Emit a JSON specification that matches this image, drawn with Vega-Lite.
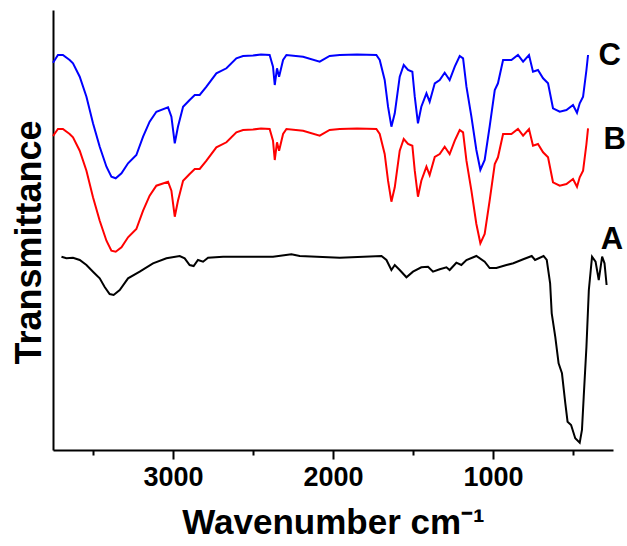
{
  "$schema": "https://vega.github.io/schema/vega-lite/v6.json",
  "width": 560,
  "height": 440,
  "autosize": "none",
  "padding": {"left": 53, "top": 10, "right": 14, "bottom": 96},
  "background": "white",
  "config": {
    "view": {"stroke": null},
    "font": "Liberation Sans"
  },
  "datasets": {
    "spectra": [
      {"s":"C","x":3750,"y":387.3},{"s":"C","x":3719,"y":395},{"s":"C","x":3688,"y":395},{"s":"C","x":3646,"y":390},{"s":"C","x":3625,"y":386.7},{"s":"C","x":3583,"y":373.3},{"s":"C","x":3541,"y":353.3},{"s":"C","x":3500,"y":326.7},{"s":"C","x":3458,"y":303.3},{"s":"C","x":3416,"y":283.3},{"s":"C","x":3385,"y":273.3},{"s":"C","x":3358,"y":271.7},{"s":"C","x":3322,"y":276.7},{"s":"C","x":3281,"y":286.7},{"s":"C","x":3229,"y":295},{"s":"C","x":3187,"y":313.3},{"s":"C","x":3146,"y":328.3},{"s":"C","x":3104,"y":338.3},{"s":"C","x":3031,"y":342.7},{"s":"C","x":3010,"y":333.3},{"s":"C","x":2989,"y":306.7},{"s":"C","x":2969,"y":323.3},{"s":"C","x":2937,"y":343.3},{"s":"C","x":2896,"y":350},{"s":"C","x":2864,"y":355},{"s":"C","x":2833,"y":355},{"s":"C","x":2791,"y":363.3},{"s":"C","x":2729,"y":376.7},{"s":"C","x":2666,"y":381.7},{"s":"C","x":2604,"y":391.7},{"s":"C","x":2562,"y":394},{"s":"C","x":2500,"y":394.5},{"s":"C","x":2450,"y":395.5},{"s":"C","x":2396,"y":395},{"s":"C","x":2375,"y":383.3},{"s":"C","x":2364,"y":365},{"s":"C","x":2350,"y":381.7},{"s":"C","x":2337,"y":373.3},{"s":"C","x":2312,"y":390},{"s":"C","x":2291,"y":395},{"s":"C","x":2187,"y":393.3},{"s":"C","x":2083,"y":388.3},{"s":"C","x":2021,"y":394},{"s":"C","x":1958,"y":395},{"s":"C","x":1850,"y":395.5},{"s":"C","x":1729,"y":395},{"s":"C","x":1708,"y":390},{"s":"C","x":1677,"y":370},{"s":"C","x":1656,"y":343.3},{"s":"C","x":1635,"y":323.3},{"s":"C","x":1614,"y":336.7},{"s":"C","x":1583,"y":373.3},{"s":"C","x":1558,"y":385},{"s":"C","x":1531,"y":380},{"s":"C","x":1504,"y":378.3},{"s":"C","x":1489,"y":353.3},{"s":"C","x":1469,"y":326.7},{"s":"C","x":1448,"y":343.3},{"s":"C","x":1416,"y":356.7},{"s":"C","x":1396,"y":348.3},{"s":"C","x":1364,"y":366.7},{"s":"C","x":1333,"y":370},{"s":"C","x":1302,"y":377.3},{"s":"C","x":1271,"y":370},{"s":"C","x":1239,"y":383.3},{"s":"C","x":1208,"y":394},{"s":"C","x":1187,"y":391.7},{"s":"C","x":1166,"y":363.3},{"s":"C","x":1135,"y":333.3},{"s":"C","x":1104,"y":300},{"s":"C","x":1079,"y":280},{"s":"C","x":1052,"y":290},{"s":"C","x":1021,"y":323.3},{"s":"C","x":989,"y":360},{"s":"C","x":969,"y":366.7},{"s":"C","x":937,"y":390},{"s":"C","x":885,"y":390},{"s":"C","x":844,"y":395},{"s":"C","x":812,"y":388.3},{"s":"C","x":775,"y":395},{"s":"C","x":750,"y":378.3},{"s":"C","x":719,"y":380},{"s":"C","x":687,"y":371.7},{"s":"C","x":656,"y":366.7},{"s":"C","x":625,"y":341.7},{"s":"C","x":583,"y":338.3},{"s":"C","x":541,"y":340},{"s":"C","x":500,"y":345},{"s":"C","x":475,"y":337.3},{"s":"C","x":458,"y":346.7},{"s":"C","x":437,"y":353.3},{"s":"C","x":416,"y":380},{"s":"C","x":406,"y":395},

      {"s":"B","x":3750,"y":314},{"s":"B","x":3719,"y":321},{"s":"B","x":3688,"y":321},{"s":"B","x":3646,"y":316},{"s":"B","x":3625,"y":312.7},{"s":"B","x":3583,"y":299.3},{"s":"B","x":3541,"y":279.3},{"s":"B","x":3500,"y":252.7},{"s":"B","x":3458,"y":229.3},{"s":"B","x":3416,"y":209.3},{"s":"B","x":3385,"y":199.3},{"s":"B","x":3358,"y":198.3},{"s":"B","x":3322,"y":202.7},{"s":"B","x":3281,"y":212.7},{"s":"B","x":3229,"y":221},{"s":"B","x":3187,"y":239.3},{"s":"B","x":3146,"y":254.3},{"s":"B","x":3104,"y":264.3},{"s":"B","x":3031,"y":268.3},{"s":"B","x":3010,"y":259.3},{"s":"B","x":2989,"y":233.3},{"s":"B","x":2969,"y":249.3},{"s":"B","x":2937,"y":269.3},{"s":"B","x":2896,"y":276},{"s":"B","x":2864,"y":281},{"s":"B","x":2833,"y":281},{"s":"B","x":2791,"y":289.3},{"s":"B","x":2729,"y":302.7},{"s":"B","x":2666,"y":307.7},{"s":"B","x":2604,"y":317.7},{"s":"B","x":2562,"y":320},{"s":"B","x":2500,"y":320.5},{"s":"B","x":2450,"y":321.5},{"s":"B","x":2396,"y":321},{"s":"B","x":2375,"y":309.3},{"s":"B","x":2364,"y":290},{"s":"B","x":2350,"y":307.7},{"s":"B","x":2337,"y":299.3},{"s":"B","x":2312,"y":316},{"s":"B","x":2291,"y":321},{"s":"B","x":2187,"y":319.3},{"s":"B","x":2083,"y":314.3},{"s":"B","x":2021,"y":320},{"s":"B","x":1958,"y":321},{"s":"B","x":1850,"y":321.5},{"s":"B","x":1729,"y":321},{"s":"B","x":1708,"y":316},{"s":"B","x":1677,"y":296},{"s":"B","x":1656,"y":269.3},{"s":"B","x":1635,"y":248.3},{"s":"B","x":1614,"y":262.7},{"s":"B","x":1583,"y":299.3},{"s":"B","x":1558,"y":311},{"s":"B","x":1531,"y":306},{"s":"B","x":1504,"y":304.3},{"s":"B","x":1489,"y":279.3},{"s":"B","x":1469,"y":253.3},{"s":"B","x":1448,"y":269.3},{"s":"B","x":1416,"y":283.3},{"s":"B","x":1396,"y":275},{"s":"B","x":1364,"y":293},{"s":"B","x":1333,"y":296},{"s":"B","x":1302,"y":303.3},{"s":"B","x":1271,"y":296},{"s":"B","x":1239,"y":309.3},{"s":"B","x":1208,"y":320},{"s":"B","x":1187,"y":317.7},{"s":"B","x":1166,"y":289.3},{"s":"B","x":1135,"y":259.3},{"s":"B","x":1104,"y":226},{"s":"B","x":1079,"y":206.7},{"s":"B","x":1052,"y":216},{"s":"B","x":1021,"y":249.3},{"s":"B","x":989,"y":286},{"s":"B","x":969,"y":292.7},{"s":"B","x":937,"y":316},{"s":"B","x":885,"y":316},{"s":"B","x":844,"y":321},{"s":"B","x":812,"y":314.3},{"s":"B","x":775,"y":321},{"s":"B","x":750,"y":304.3},{"s":"B","x":719,"y":306},{"s":"B","x":687,"y":297.7},{"s":"B","x":656,"y":292.7},{"s":"B","x":625,"y":267.7},{"s":"B","x":583,"y":264.3},{"s":"B","x":541,"y":266},{"s":"B","x":500,"y":271},{"s":"B","x":475,"y":263.3},{"s":"B","x":458,"y":272.7},{"s":"B","x":437,"y":279.3},{"s":"B","x":416,"y":306},{"s":"B","x":406,"y":321.7},

      {"s":"A","x":3697,"y":193.3},{"s":"A","x":3666,"y":191.7},{"s":"A","x":3625,"y":192.3},{"s":"A","x":3583,"y":190},{"s":"A","x":3541,"y":185},{"s":"A","x":3500,"y":178.3},{"s":"A","x":3458,"y":171.7},{"s":"A","x":3427,"y":163},{"s":"A","x":3396,"y":156},{"s":"A","x":3371,"y":155},{"s":"A","x":3333,"y":160},{"s":"A","x":3281,"y":171.7},{"s":"A","x":3208,"y":178.3},{"s":"A","x":3125,"y":186.7},{"s":"A","x":3041,"y":191.7},{"s":"A","x":2958,"y":194},{"s":"A","x":2927,"y":191.7},{"s":"A","x":2896,"y":185},{"s":"A","x":2871,"y":184},{"s":"A","x":2844,"y":190},{"s":"A","x":2812,"y":188.3},{"s":"A","x":2781,"y":192.3},{"s":"A","x":2687,"y":193.3},{"s":"A","x":2375,"y":193.3},{"s":"A","x":2260,"y":195.7},{"s":"A","x":2208,"y":194},{"s":"A","x":1958,"y":192.3},{"s":"A","x":1697,"y":194},{"s":"A","x":1666,"y":190},{"s":"A","x":1635,"y":180},{"s":"A","x":1614,"y":185},{"s":"A","x":1583,"y":180},{"s":"A","x":1541,"y":172.7},{"s":"A","x":1500,"y":178.3},{"s":"A","x":1448,"y":182.7},{"s":"A","x":1406,"y":183.3},{"s":"A","x":1375,"y":178.3},{"s":"A","x":1333,"y":180.7},{"s":"A","x":1291,"y":182.7},{"s":"A","x":1271,"y":180},{"s":"A","x":1229,"y":187.3},{"s":"A","x":1198,"y":185},{"s":"A","x":1166,"y":190},{"s":"A","x":1104,"y":194},{"s":"A","x":1052,"y":188.3},{"s":"A","x":1021,"y":182},{"s":"A","x":979,"y":182},{"s":"A","x":916,"y":185},{"s":"A","x":873,"y":186.7},{"s":"A","x":811,"y":190.7},{"s":"A","x":758,"y":194},{"s":"A","x":737,"y":190},{"s":"A","x":684,"y":194},{"s":"A","x":664,"y":190},{"s":"A","x":643,"y":166.7},{"s":"A","x":633,"y":136.7},{"s":"A","x":611,"y":113.3},{"s":"A","x":590,"y":86.7},{"s":"A","x":569,"y":76.7},{"s":"A","x":548,"y":46.7},{"s":"A","x":534,"y":28.3},{"s":"A","x":512,"y":25},{"s":"A","x":486,"y":11.7},{"s":"A","x":458,"y":7.3},{"s":"A","x":444,"y":20},{"s":"A","x":433,"y":53.3},{"s":"A","x":416,"y":103.3},{"s":"A","x":401,"y":160},{"s":"A","x":381,"y":193.3},{"s":"A","x":359,"y":188.3},{"s":"A","x":339,"y":170},{"s":"A","x":318,"y":193.3},{"s":"A","x":303,"y":186.7},{"s":"A","x":290,"y":165}
    ],
    "labels": [
      {"s":"C","x":270,"y":394},
      {"s":"B","x":240,"y":310},
      {"s":"A","x":256,"y":210}
    ]
  },
  "encoding": {
    "x": {
      "field": "x", "type": "quantitative",
      "scale": {"domain": [250, 3750], "reverse": true, "nice": false, "zero": false},
      "axis": {
        "values": [3500, 3000, 2500, 2000, 1500, 1000, 500],
        "format": "d",
        "labelExpr": "datum.value % 1000 === 0 ? datum.label : ''",
        "tickSize": {"condition": {"test": "datum.value % 1000 === 0", "value": 9}, "value": 5},
        "tickWidth": 2, "tickColor": "black",
        "domainWidth": 2, "domainColor": "black",
        "grid": false,
        "labelFont": "Liberation Sans", "labelFontWeight": "bold", "labelFontSize": 27, "labelColor": "black",
        "labelPadding": 5,
        "title": "Wavenumber cm⁻¹",
        "titleFont": "Liberation Sans", "titleFontWeight": "bold", "titleFontSize": 35, "titleColor": "black",
        "titlePadding": 15
      }
    },
    "y": {
      "field": "y", "type": "quantitative",
      "scale": {"domain": [0, 440], "nice": false, "zero": false},
      "axis": {
        "ticks": false, "labels": false, "grid": false,
        "domainWidth": 2, "domainColor": "black",
        "title": "Transmittance",
        "titleFont": "Liberation Sans", "titleFontWeight": "bold", "titleFontSize": 36, "titleColor": "black",
        "titlePadding": 5,
        "titleY": 232
      }
    },
    "color": {
      "field": "s", "type": "nominal",
      "scale": {"domain": ["A", "B", "C"], "range": ["#000000", "#ff0000", "#0000ff"]},
      "legend": null
    }
  },
  "layer": [
    {
      "data": {"name": "spectra"},
      "mark": {"type": "line", "strokeWidth": 2, "interpolate": "linear"},
      "encoding": {"detail": {"field": "s"}}
    },
    {
      "data": {"name": "labels"},
      "mark": {"type": "text", "font": "Liberation Sans", "fontWeight": "bold", "fontSize": 31, "align": "center", "baseline": "middle", "color": "black"},
      "encoding": {"text": {"field": "s"}, "color": {"value": "black"}}
    }
  ]
}
